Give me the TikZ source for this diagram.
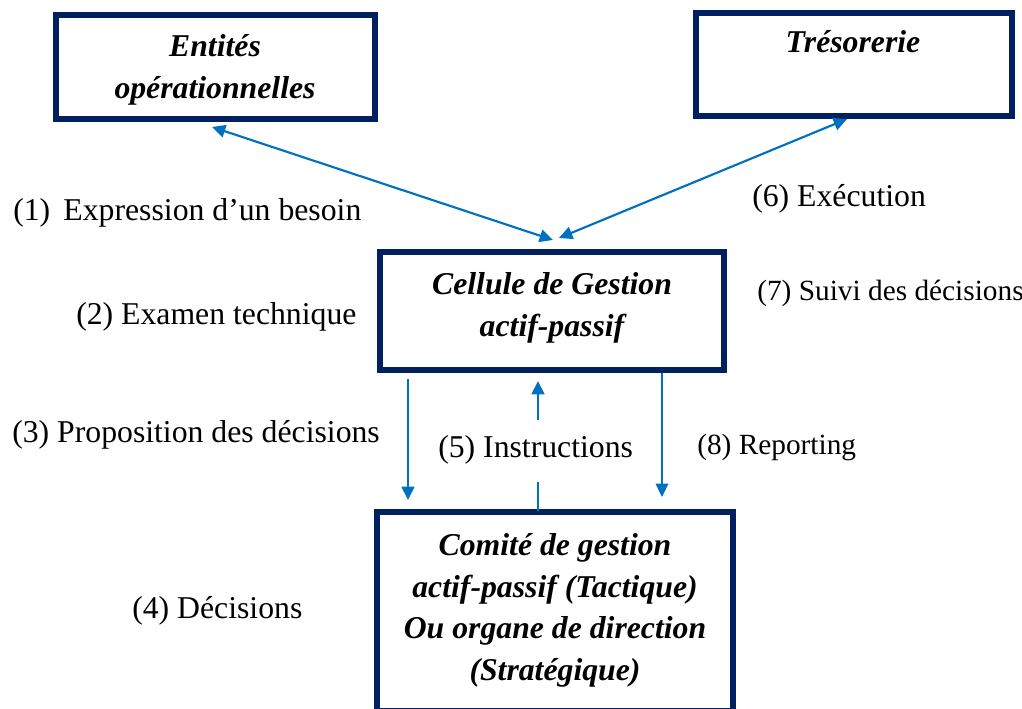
\documentclass[tikz,border=0pt]{standalone}
\usepackage{fontspec}
\setmainfont{Liberation Serif}
\usetikzlibrary{arrows.meta,calc}
\definecolor{navy}{HTML}{002060}
\definecolor{arrblue}{HTML}{0070C0}
\tikzset{
  box/.style={draw=navy, line width=4.5pt, rectangle, inner sep=0pt, outer sep=0pt, fill=white},
  boxtxt/.style={anchor=base, inner sep=0pt, font=\fontsize{23.8pt}{28pt}\selectfont\bfseries\itshape},
  lab/.style={anchor=base west, inner sep=0pt, font=\fontsize{23.8pt}{28pt}\selectfont},
  labs/.style={anchor=base west, inner sep=0pt, font=\fontsize{22pt}{26pt}\selectfont},
  conn/.style={draw=arrblue, line width=1.6pt},
  vconn/.style={draw=arrblue, line width=2pt},
  tconn/.style={draw=arrblue, line width=0.8pt},
  tip/.style={-{Triangle[length=10pt,width=9.5pt]}},
  tips/.style={{Triangle[length=10pt,width=9.5pt]}-{Triangle[length=10pt,width=9.5pt]}}
}
\begin{document}
\begin{tikzpicture}[x=0.75pt,y=-0.75pt]
\clip (0,0) rectangle (1022,709);
\useasboundingbox (0,0) rectangle (1022,709);
\fill[white] (0,0) rectangle (1022,709);
% boxes
\node[box, minimum width=239.25pt, minimum height=78pt] (e) at (215.5,67) {};
\node[box, minimum width=237pt, minimum height=77.25pt] (t) at (854,64.5) {};
\node[box, minimum width=258pt, minimum height=88.5pt] (c) at (552,311) {};
\node[box, minimum width=267pt, minimum height=149.25pt] (d) at (555,611.5) {};
% box texts
\node[boxtxt] (e1) at (215,57) {Entités};
\node[boxtxt] (e2) at (215,99) {opérationnelles};
\node[boxtxt] (t1) at (853,53) {Trésorerie};
\node[boxtxt] (c1) at (552,295) {Cellule de Gestion};
\node[boxtxt] (c2) at (552,337) {actif-passif};
\node[boxtxt] (d1) at (555,555) {Comité de gestion};
\node[boxtxt] (d2) at (555,597) {actif-passif (Tactique)};
\node[boxtxt] (d3) at (555,638) {Ou organe de direction};
\node[boxtxt] (d4) at (555,680) {(Stratégique)};
% labels
\node[lab] (l1) at (13,221) {(1)\, Expression d’un besoin};
\node[lab] (l6) at (752,207) {(6) Exécution};
\node[lab] (l2) at (76,325) {(2) Examen technique};
\node[labs] (l7) at (757,301) {(7) Suivi des décisions};
\node[lab] (l3) at (12,443) {(3) Proposition des décisions};
\node[lab] (l5) at (438,458) {(5) Instructions};
\node[labs] (l8) at (697,455) {(8) Reporting};
\node[lab] (l4) at (132,618) {(4) Décisions};
% connectors
\draw[conn, tips] ($(e.south west)+(156,8)$) -- ($(c.north west)+(173,-12)$);
\draw[conn, tips] ($(t.south west)+(151,3)$) -- ($(c.north west)+(179,-14)$);
\draw[vconn, tip] ($(c.south west)+(28,9)$) -- ($(d.north west)+(31,-12)$);
\draw[vconn] ($(d.north west)+(161,-1)$) -- ($(d.north west)+(161,-30)$);
\draw[vconn, tip] ($(c.south west)+(158,50)$) -- ($(c.south west)+(158,11)$);
\draw[vconn] ($(c.south west)+(282,3)$) -- ($(c.south west)+(282,50)$);
\draw[tconn, tip] ($(c.south west)+(282,50)$) -- ($(d.north west)+(285,-15)$);
\end{tikzpicture}
\end{document}
